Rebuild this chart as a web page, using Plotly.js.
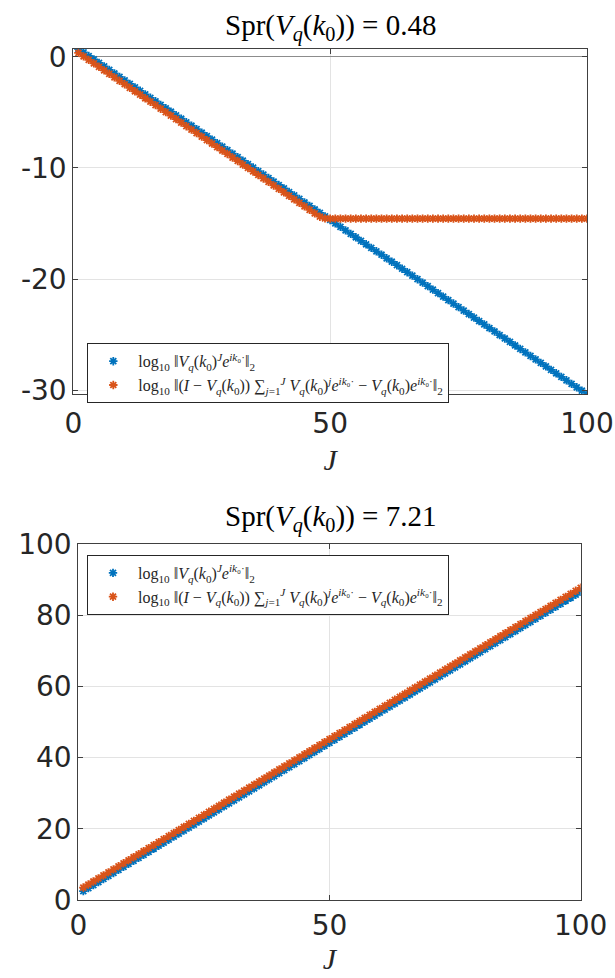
<!DOCTYPE html>
<html>
<head>
<meta charset="utf-8">
<script src="https://cdn.plot.ly/plotly-3.0.1.min.js"></script>
<style>html,body{margin:0;padding:0;background:#fff;}#chart{width:615px;height:978px;}</style>
</head>
<body>
<div id="chart"></div>
<script>
// ---- data ----
const J = [1,2,3,4,5,6,7,8,9,10,11,12,13,14,15,16,17,18,19,20,21,22,23,24,25,26,27,28,29,30,31,32,33,34,35,36,37,38,39,40,41,42,43,44,45,46,47,48,49,50,51,52,53,54,55,56,57,58,59,60,61,62,63,64,65,66,67,68,69,70,71,72,73,74,75,76,77,78,79,80,81,82,83,84,85,86,87,88,89,90,91,92,93,94,95,96,97,98,99,100];

// Spr = 0.48 panel
const topBlue = [0.70,0.39,0.07,-0.24,-0.55,-0.87,-1.18,-1.50,-1.81,-2.12,-2.44,-2.75,-3.06,-3.38,-3.69,-4.00,-4.32,-4.63,-4.94,-5.26,-5.57,-5.89,-6.20,-6.51,-6.83,-7.14,-7.45,-7.77,-8.08,-8.39,-8.71,-9.02,-9.34,-9.65,-9.96,-10.28,-10.59,-10.90,-11.22,-11.53,-11.84,-12.16,-12.47,-12.78,-13.10,-13.41,-13.73,-14.04,-14.35,-14.67,-14.98,-15.29,-15.61,-15.92,-16.23,-16.55,-16.86,-17.18,-17.49,-17.80,-18.12,-18.43,-18.74,-19.06,-19.37,-19.68,-20.00,-20.31,-20.62,-20.94,-21.25,-21.57,-21.88,-22.19,-22.51,-22.82,-23.13,-23.45,-23.76,-24.07,-24.39,-24.70,-25.02,-25.33,-25.64,-25.96,-26.27,-26.58,-26.90,-27.21,-27.52,-27.84,-28.15,-28.46,-28.78,-29.09,-29.41,-29.72,-30.03,-30.35];
const topOrange = [0.35,0.04,-0.28,-0.59,-0.90,-1.22,-1.53,-1.85,-2.16,-2.47,-2.79,-3.10,-3.41,-3.73,-4.04,-4.35,-4.67,-4.98,-5.29,-5.61,-5.92,-6.24,-6.55,-6.86,-7.18,-7.49,-7.80,-8.12,-8.43,-8.74,-9.06,-9.37,-9.69,-10.00,-10.31,-10.63,-10.94,-11.25,-11.57,-11.88,-12.19,-12.51,-12.82,-13.13,-13.45,-13.76,-14.08,-14.38,-14.53,-14.55,-14.55,-14.55,-14.55,-14.55,-14.55,-14.55,-14.55,-14.55,-14.55,-14.55,-14.55,-14.55,-14.55,-14.55,-14.55,-14.55,-14.55,-14.55,-14.55,-14.55,-14.55,-14.55,-14.55,-14.55,-14.55,-14.55,-14.55,-14.55,-14.55,-14.55,-14.55,-14.55,-14.55,-14.55,-14.55,-14.55,-14.55,-14.55,-14.55,-14.55,-14.55,-14.55,-14.55,-14.55,-14.55,-14.55,-14.55,-14.55,-14.55,-14.55];

// Spr = 7.21 panel
const botBlue = [2.50,3.35,4.20,5.05,5.90,6.75,7.60,8.45,9.30,10.15,11.00,11.84,12.69,13.54,14.39,15.24,16.09,16.94,17.79,18.64,19.49,20.34,21.19,22.04,22.89,23.74,24.59,25.44,26.29,27.14,27.99,28.83,29.68,30.53,31.38,32.23,33.08,33.93,34.78,35.63,36.48,37.33,38.18,39.03,39.88,40.73,41.58,42.43,43.28,44.13,44.98,45.82,46.67,47.52,48.37,49.22,50.07,50.92,51.77,52.62,53.47,54.32,55.17,56.02,56.87,57.72,58.57,59.42,60.27,61.12,61.97,62.81,63.66,64.51,65.36,66.21,67.06,67.91,68.76,69.61,70.46,71.31,72.16,73.01,73.86,74.71,75.56,76.41,77.26,78.11,78.96,79.80,80.65,81.50,82.35,83.20,84.05,84.90,85.75,86.60];
const botOrange = [3.50,4.35,5.20,6.05,6.90,7.76,8.61,9.46,10.31,11.16,12.01,12.85,13.70,14.55,15.40,16.26,17.11,17.96,18.81,19.66,20.51,21.36,22.21,23.06,23.91,24.77,25.62,26.47,27.32,28.17,29.02,29.86,30.71,31.56,32.41,33.27,34.12,34.97,35.82,36.67,37.52,38.37,39.22,40.07,40.92,41.78,42.63,43.48,44.33,45.18,46.03,46.87,47.72,48.57,49.42,50.28,51.13,51.98,52.83,53.68,54.53,55.38,56.23,57.08,57.93,58.79,59.64,60.49,61.34,62.19,63.04,63.88,64.73,65.58,66.43,67.29,68.14,68.99,69.84,70.69,71.54,72.39,73.24,74.09,74.94,75.80,76.65,77.50,78.35,79.20,80.05,80.89,81.74,82.59,83.44,84.30,85.15,86.00,86.85,87.70];

const titles = ["Spr(<i>V<sub>q</sub></i>(<i>k</i><sub>0</sub>)) = 0.48", "Spr(<i>V<sub>q</sub></i>(<i>k</i><sub>0</sub>)) = 7.21"];
const legendNames = [
  "log<sub>10</sub> ‖<i>V<sub>q</sub></i>(<i>k</i><sub>0</sub>)<sup><i>J</i></sup><i>e</i><sup><i>ik</i>₀·</sup>‖<sub>2</sub>",
  "log<sub>10</sub> ‖(<i>I</i> − <i>V<sub>q</sub></i>(<i>k</i><sub>0</sub>)) ∑<sub><i>j</i>=1</sub><sup><i>J</i></sup> <i>V<sub>q</sub></i>(<i>k</i><sub>0</sub>)<sup><i>j</i></sup><i>e</i><sup><i>ik</i>₀·</sup> − <i>V<sub>q</sub></i>(<i>k</i><sub>0</sub>)<i>e</i><sup><i>ik</i>₀·</sup>‖<sub>2</sub>"
];
const xTicks = [0, 50, 100];
const xTickText = ["0", "50", "100"];
const topYTicks = [-30, -20, -10, 0];
const topYTickText = ["-30", "-20", "-10", "0"];
const botYTicks = [0, 20, 40, 60, 80, 100];
const botYTickText = ["0", "20", "40", "60", "80", "100"];

// ---- styling ----
const BLUE = "#0072BD", ORANGE = "#D95319";
const W = 615, H = 978;
function mk(color){ return {symbol: "asterisk-open", size: 7, line: {color: color, width: 1.8}, color: color}; }

const traces = [
  {x: J, y: topBlue, xaxis: "x", yaxis: "y", mode: "markers", name: legendNames[0], marker: mk(BLUE), legend: "legend"},
  {x: J, y: topOrange, xaxis: "x", yaxis: "y", mode: "markers", name: legendNames[1], marker: mk(ORANGE), legend: "legend"},
  {x: J, y: botBlue, xaxis: "x2", yaxis: "y2", mode: "markers", name: legendNames[0], marker: mk(BLUE), legend: "legend2"},
  {x: J, y: botOrange, xaxis: "x2", yaxis: "y2", mode: "markers", name: legendNames[1], marker: mk(ORANGE), legend: "legend2"}
];

const tickFont = {family: "DejaVu Sans", size: 28, color: "#262626"};
const axisCommon = {
  showline: true, linecolor: "#404040", linewidth: 1, mirror: "ticks",
  ticks: "inside", ticklen: 5, tickcolor: "#404040", tickwidth: 1,
  showgrid: true, gridcolor: "#e3e3e3", gridwidth: 1,
  zeroline: false, tickfont: tickFont, fixedrange: true
};
const jTitle = (standoff) => ({text: "<i>J</i>", font: {family: "Liberation Serif", size: 30, color: "#262626"}, standoff: standoff});

// pixel -> paper helpers
const px = v => v / W;
const py = v => 1 - v / H;

const legendCommon = {xanchor: "left", yanchor: "top", xref: "paper", yref: "paper",
  bgcolor: "#ffffff", bordercolor: "#262626", borderwidth: 1,
  font: {family: "Liberation Serif", size: 16, color: "#262626"}, tracegroupgap: 0, itemwidth: 40};

const layout = {
  width: W, height: H,
  margin: {l: 0, r: 0, t: 0, b: 0},
  paper_bgcolor: "#ffffff", plot_bgcolor: "#ffffff",
  showlegend: true,
  xaxis: Object.assign({}, axisCommon, {domain: [px(73.3), px(587)], range: [0, 100], tickvals: xTicks, ticktext: xTickText, anchor: "y", ticklabelstandoff: 4, title: jTitle(10)}),
  yaxis: Object.assign({}, axisCommon, {domain: [py(394.3), py(49)], range: [-30.35, 0.7], tickvals: topYTicks, ticktext: topYTickText, anchor: "x", zeroline: true, zerolinecolor: "#8c8c8c", zerolinewidth: 1}),
  xaxis2: Object.assign({}, axisCommon, {domain: [px(78.3), px(580.7)], range: [0, 100], tickvals: xTicks, ticktext: xTickText, anchor: "y2", title: jTitle(0)}),
  yaxis2: Object.assign({}, axisCommon, {domain: [py(900), py(544)], range: [0, 100], tickvals: botYTicks, ticktext: botYTickText, anchor: "x2"}),
  legend: Object.assign({}, legendCommon, {x: px(87.3), y: py(343.3)}),
  legend2: Object.assign({}, legendCommon, {x: px(87), y: py(555)}),
  annotations: [
    {text: titles[0], x: px(330), y: py(28), xref: "paper", yref: "paper", xanchor: "center", yanchor: "middle", showarrow: false,
     font: {family: "Liberation Serif", size: 29, color: "#000000"}},
    {text: titles[1], x: px(330), y: py(518), xref: "paper", yref: "paper", xanchor: "center", yanchor: "middle", showarrow: false,
     font: {family: "Liberation Serif", size: 29, color: "#000000"}}
  ]
};

Plotly.newPlot("chart", traces, layout, {displayModeBar: false, staticPlot: true});
</script>
</body>
</html>
